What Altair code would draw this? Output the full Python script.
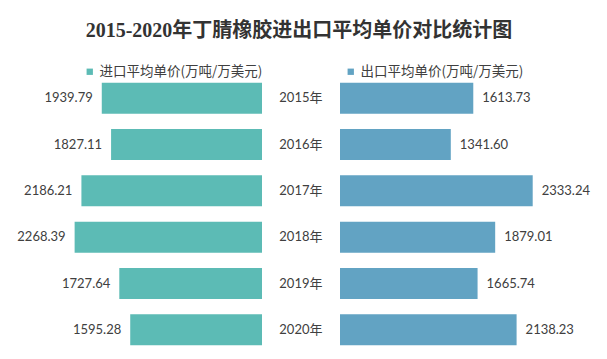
import altair as alt
import pandas as pd

years = ["2015年", "2016年", "2017年", "2018年", "2019年", "2020年"]
imports = [1939.79, 1827.11, 2186.21, 2268.39, 1727.64, 1595.28]
exports = [1613.73, 1341.60, 2333.24, 1879.01, 1665.74, 2138.23]
import_name = "进口平均单价(万吨/万美元)"
export_name = "出口平均单价(万吨/万美元)"
title_text = "2015-2020年丁腈橡胶进出口平均单价对比统计图"

df_in = pd.DataFrame({"year": years, "value": imports, "series": [import_name] * len(years)})
df_out = pd.DataFrame({"year": years, "value": exports, "series": [export_name] * len(years)})

C_IN = "#5CBBB5"
C_OUT = "#62A3C3"
TXT = "#404040"
NUM_FONT = "Lato"
CJK_FONT = "Noto Sans CJK SC"

yscale = alt.Scale(domain=years, paddingInner=0.33, paddingOuter=0.165)
H = 278


def legend(x):
    return alt.Legend(
        title=None, orient="none", legendX=x, legendY=-10, symbolType="square",
        symbolSize=40, symbolStrokeWidth=0, labelFont=CJK_FONT, labelFontSize=13.5,
        labelColor=TXT, labelOffset=3, padding=0, direction="horizontal", labelLimit=400,
    )


left_base = alt.Chart(df_in).encode(
    y=alt.Y("year:N", scale=yscale, axis=None),
    x=alt.X("value:Q", scale=alt.Scale(domain=[0, 3075], reverse=True, nice=False), axis=None),
)
left = alt.layer(
    left_base.mark_bar().encode(
        color=alt.Color("series:N", scale=alt.Scale(range=[C_IN]), legend=legend(75))
    ),
    left_base.mark_text(align="right", dx=-9, font=NUM_FONT, fontSize=13, color=TXT).encode(
        text=alt.Text("value:Q", format=".2f")
    ),
).properties(width=254, height=H)

right_base = alt.Chart(df_out).encode(
    y=alt.Y("year:N", scale=yscale, axis=alt.Axis(
        title=None, domain=False, ticks=False, labelPadding=18, labelFont=NUM_FONT + ", " + CJK_FONT,
        labelFontSize=13, labelColor=TXT, labelAlign="right")),
    x=alt.X("value:Q", scale=alt.Scale(domain=[0, 3027], nice=False), axis=None),
)
right = alt.layer(
    right_base.mark_bar().encode(
        color=alt.Color("series:N", scale=alt.Scale(range=[C_OUT]), legend=legend(4))
    ),
    right_base.mark_text(align="left", dx=9, font=NUM_FONT, fontSize=13, color=TXT).encode(
        text=alt.Text("value:Q", format=".2f")
    ),
).properties(width=250, height=H)

chart = alt.hconcat(left, right, spacing=78, bounds="flush").resolve_scale(
    color="independent", y="shared"
).resolve_legend(color="independent").properties(
    title=alt.TitleParams(
        title_text, font="Liberation Serif, " + CJK_FONT, fontSize=20, fontWeight="bold",
        color="#333333", anchor="middle", offset=24,
    ),
    padding={"left": 0, "top": 13, "right": 5, "bottom": 2},
    background="white",
).configure_view(stroke=None)

chart.save("out.html", embed_options={"renderer": "svg", "actions": False})
